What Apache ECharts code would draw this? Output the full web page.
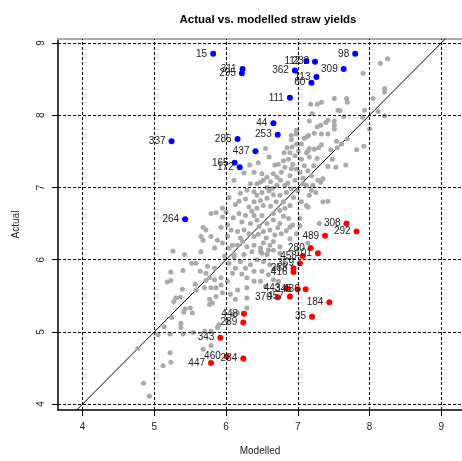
<!DOCTYPE html>
<html>
<head>
<meta charset="utf-8">
<script src="https://cdn.jsdelivr.net/npm/echarts@6/dist/echarts.min.js"></script>
<style>
  html, body { margin: 0; padding: 0; background: #ffffff; }
  #chart { width: 462px; height: 461px; }
</style>
</head>
<body>
<div id="chart"></div>
<script>
// Axis tick positions (both axes share the same 4..9 scale)
const ticks = [4, 5, 6, 7, 8, 9];
// End points of the 1:1 reference line
const oneToOne = [3, 10];

// Fields that fit the model reasonably: [modelled, actual]
const fittedPoints = [
  [8.25,8.78],[8.15,8.72],[7.91,8.58],[8.21,8.37],[8.21,8.32],[8.05,8.23],[7.93,8.07],[8.12,8.05],
  [8.21,7.99],[7.68,8.23],[7.69,8.18],[7.51,8.23],[7.33,8.18],[7.27,8.15],[7.18,8.15],[7.20,8.02],
  [7.56,8.07],[7.59,8.06],[7.64,7.98],[7.90,7.97],[7.51,7.92],[7.51,7.86],[7.51,7.81],[7.42,7.93],
  [7.39,7.90],[7.32,7.86],[7.27,7.84],[7.16,7.92],[7.23,7.75],[7.33,7.74],[7.42,7.74],[7.54,7.64],
  [7.69,7.67],[7.92,7.57],[7.82,7.52],[7.61,7.60],[7.55,7.55],[7.46,7.52],[7.33,7.59],[7.29,7.55],
  [7.23,7.53],[7.16,7.54],[7.14,7.50],[7.13,7.70],[7.15,7.72],[7.09,7.68],[6.98,7.79],[6.98,7.74],
  [6.91,7.72],[6.91,7.66],[6.98,7.60],[7.01,7.50],[8.00,7.81],[6.92,7.56],[6.55,7.54],
  [6.89,7.48],[6.96,7.44],[6.87,7.39],[6.93,7.32],[7.05,7.39],[7.12,7.48],[7.16,7.42],[7.09,7.30],
  [7.14,7.23],[7.03,7.21],[6.91,7.26],[6.89,7.16],[6.96,7.10],[7.07,7.05],[7.19,7.16],[7.21,7.03],
  [7.28,7.10],[7.32,7.07],[7.35,7.12],[7.25,6.93],[7.19,6.96],[7.12,7.03],[7.16,6.89],[7.05,6.80],
  [7.12,6.75],[7.14,6.73],[7.35,6.80],[7.42,6.81],[7.42,7.29],[7.53,7.28],[7.67,7.31],[7.48,7.39],
  [6.87,6.57],[6.93,6.48],[7.03,6.57],[6.89,6.45],[7.03,6.47],[7.30,6.50],[6.89,6.29],[7.14,6.23],
  [6.98,6.36],
  [6.33,7.31],[6.45,7.34],[6.68,7.31],[6.73,7.32],[6.80,7.37],[6.82,7.28],[6.77,7.21],[6.66,7.19],
  [6.71,7.14],[6.57,7.14],[6.52,7.10],[6.48,7.07],[6.43,7.05],[6.34,7.05],[6.11,7.10],[6.82,7.03],
  [6.71,7.03],[6.65,6.99],[6.57,7.00],[6.50,6.93],[6.43,6.89],[6.39,6.94],[6.29,6.96],[6.27,6.84],
  [6.39,6.80],[6.48,6.82],[6.57,6.85],[6.66,6.90],[6.75,6.89],[6.84,6.93],[6.91,6.98],[6.18,6.81],
  [6.13,6.76],[6.32,6.73],[6.43,6.71],[6.52,6.75],[6.18,6.64],[6.27,6.61],[6.39,6.61],[6.50,6.61],
  [6.66,6.64],[6.75,6.68],[6.82,6.71],[6.89,6.75],[5.79,6.64],[5.86,6.65],[5.95,6.59],[5.95,6.71],
  [6.43,6.55],[6.57,6.50],[6.66,6.55],[6.75,6.50],[5.93,6.45],[6.02,6.48],[6.07,6.41],[6.16,6.39],
  [6.25,6.41],[6.32,6.36],[6.39,6.32],[6.45,6.35],[6.52,6.39],[6.61,6.41],[6.68,6.34],[6.77,6.36],
  [5.68,6.45],[5.72,6.41],[5.65,6.32],[5.68,6.27],[5.79,6.32],[5.88,6.27],[5.95,6.23],[6.02,6.32],
  [6.09,6.20],[6.16,6.20],[6.23,6.25],[6.29,6.18],[6.39,6.20],[6.48,6.16],[6.52,6.23],[6.61,6.20],
  [6.66,6.25],[6.75,6.18],[5.65,6.11],[5.84,6.16],[6.04,6.16],[6.11,6.07],[6.25,6.07],[6.36,6.11],
  [6.50,6.09],[6.59,6.13],[6.81,7.48],[6.39,7.21],[6.50,7.19],
  [6.62,7.08],[6.76,7.10],[6.86,7.06],[6.60,6.95],[6.70,6.80],[6.80,6.80],[6.94,6.86],[6.62,6.74],
  [6.36,6.67],[6.46,6.46],[6.56,6.30],[6.80,6.60],[6.72,6.44],[6.34,6.50],[6.22,6.52],[6.10,6.58],
  [6.20,6.30],[6.84,6.40],[7.00,6.95],[7.07,7.13],[6.98,7.25],[7.22,7.30],[7.27,7.40],[7.05,7.60],
  [6.85,7.55],[6.60,7.42],[6.25,7.20],[6.20,6.92],[6.04,6.86],[6.00,6.66],
  [5.26,6.12],[5.42,6.07],[5.58,5.95],[5.52,5.95],[5.23,5.83],[5.40,5.85],[5.74,5.91],[5.72,5.81],
  [5.84,5.88],[5.77,5.75],[5.84,5.72],[5.93,5.75],[5.79,5.61],[5.86,5.61],[5.93,5.65],[6.02,5.70],
  [6.09,5.81],[6.13,5.88],[6.04,5.95],[6.11,6.04],[6.20,5.97],[5.95,5.54],[5.86,5.49],[6.06,5.52],
  [6.16,5.58],[6.29,5.61],[6.29,5.75],[6.27,5.88],[6.34,5.93],[6.39,5.70],[6.48,5.70],[6.55,5.63],
  [6.39,5.84],[6.50,5.84],[6.59,5.79],[6.66,5.72],[6.73,5.70],[6.43,6.00],[6.52,5.97],[6.61,5.93],
  [6.68,5.88],[6.48,6.11],[6.57,6.07],[6.66,6.13],[6.75,6.09],[5.98,6.05],[6.22,5.80],[5.64,5.84],
  [5.18,5.69],[5.23,5.71],[5.39,5.59],[5.57,5.66],[5.58,5.58],[5.70,5.61],[5.72,5.71],
  [4.93,4.11],[4.85,4.29],[4.77,4.77],[5.12,4.53],[5.23,4.58],[5.22,4.71],[5.68,4.76],[5.79,4.81],
  [5.05,4.96],[5.22,4.97],[5.40,4.97],[5.54,4.99],[5.70,5.01],[5.79,5.01],[5.88,5.06],[5.90,5.10],
  [6.02,5.15],[6.09,5.24],[6.16,5.26],[6.29,5.33],[5.14,5.07],[5.24,5.20],[5.37,5.12],[5.37,5.06],
  [5.41,5.27],[5.43,5.32],[5.50,5.33],[5.53,5.26],[5.27,5.42],[5.30,5.47],[5.36,5.48],[5.77,5.45],
  [5.81,5.40],[5.77,5.38],[6.13,5.45],[6.29,5.47]
];

// Fields yielding well above the model
const overLabels   = ['15','311','295','112','232','362','309','98','113','60','111','44','253','285','337','437','165','172','264'];
const overModelled = [5.82, 6.23, 6.22, 7.12, 7.24, 6.96, 7.64, 7.80, 7.26, 7.19, 6.89, 6.66, 6.72, 6.16, 5.24, 6.41, 6.12, 6.19, 5.43];
const overActual   = [8.85, 8.64, 8.58, 8.75, 8.74, 8.62, 8.64, 8.85, 8.53, 8.45, 8.24, 7.89, 7.73, 7.67, 7.64, 7.50, 7.34, 7.28, 6.56];

// Fields yielding well below the model
const underLabels   = ['308','292','489','280','101','458','369','258','416','443','345','486','370','457','184','35','448','289','343','460','284','447'];
const underModelled = [7.68, 7.82, 7.38, 7.18, 7.28, 7.07, 7.03, 6.94, 6.94, 6.84, 7.00, 7.11, 6.72, 6.89, 7.44, 7.20, 6.25, 6.24, 5.92, 6.01, 6.24, 5.79];
const underActual   = [6.50, 6.39, 6.33, 6.16, 6.09, 6.05, 5.95, 5.88, 5.83, 5.60, 5.59, 5.59, 5.48, 5.49, 5.41, 5.21, 5.25, 5.13, 4.92, 4.66, 4.63, 4.57];

const FONT = '"Liberation Sans", Arial, Helvetica, sans-serif';
const TEXT = '#222222';

const chart = echarts.init(document.getElementById('chart'), null, { renderer: 'canvas' });

function labelled(xs, ys, names) {
  return xs.map((x, i) => [x, ys[i], names[i]]);
}

const pointLabel = {
  show: true,
  position: 'left',
  distance: 3,
  formatter: p => p.data[2],
  fontSize: 10,
  fontFamily: FONT,
  color: TEXT
};

const gridLines = ticks.map(t => ({ xAxis: t })).concat(ticks.map(t => ({ yAxis: t })));

chart.setOption({
  animation: false,
  backgroundColor: '#ffffff',
  textStyle: { fontFamily: FONT },
  title: {
    text: 'Actual vs. modelled straw yields',
    left: 263,
    top: 9,
    textAlign: 'center',
    textStyle: { fontSize: 11.5, fontWeight: 'bold', color: '#000', fontFamily: FONT }
  },
  grid: { left: 58, top: 39, width: 410, height: 374, containLabel: false },
  xAxis: [{
    type: 'value',
    min: 3.657,
    max: 9.289,
    position: 'bottom',
    name: 'Modelled',
    nameLocation: 'middle',
    nameGap: 36,
    nameTextStyle: { fontSize: 10, color: TEXT, fontFamily: FONT },
    axisLine: { show: true, onZero: false, lineStyle: { color: '#000', width: 1.5 } },
    axisTick: { show: true, customValues: ticks, length: 6, lineStyle: { color: '#000', width: 1 } },
    axisLabel: { customValues: ticks, margin: 12, fontSize: 10, color: TEXT, fontFamily: FONT },
    splitLine: { show: false }
  }, {
    type: 'value',
    min: 3.657,
    max: 9.289,
    position: 'top',
    axisLine: { show: true, onZero: false, lineStyle: { color: '#aaa', width: 2 } },
    axisTick: { show: false },
    axisLabel: { show: false },
    splitLine: { show: false }
  }],
  yAxis: {
    type: 'value',
    min: 3.918,
    max: 9.055,
    name: 'Actual',
    nameLocation: 'middle',
    nameGap: 37,
    nameRotate: 90,
    nameTextStyle: { fontSize: 10, color: TEXT, fontFamily: FONT },
    axisLine: { show: true, onZero: false, lineStyle: { color: '#000', width: 1.5 } },
    axisTick: { show: true, customValues: ticks, length: 6, lineStyle: { color: '#000', width: 1 } },
    axisLabel: {
      customValues: ticks, rotate: 90, align: 'center', verticalAlign: 'bottom',
      margin: 12, fontSize: 10, color: TEXT, fontFamily: FONT
    },
    splitLine: { show: false }
  },
  series: [
    {
      name: '1:1',
      type: 'line',
      data: oneToOne.map(v => [v, v]),
      symbol: 'none',
      clip: true,
      z: 1,
      lineStyle: { color: '#000', width: 1 },
      markLine: {
        silent: true,
        symbol: ['none', 'none'],
        label: { show: false },
        lineStyle: { color: '#000', width: 1, type: [3, 2] },
        data: gridLines
      }
    },
    {
      name: 'fields',
      type: 'scatter',
      data: fittedPoints,
      symbolSize: 5,
      z: 2,
      itemStyle: { color: '#a9a9a9', opacity: 1 }
    },
    {
      name: 'above',
      type: 'scatter',
      data: labelled(overModelled, overActual, overLabels),
      symbolSize: 6,
      z: 3,
      itemStyle: { color: '#0000ff', opacity: 1 },
      label: pointLabel
    },
    {
      name: 'below',
      type: 'scatter',
      data: labelled(underModelled, underActual, underLabels),
      symbolSize: 6,
      z: 3,
      itemStyle: { color: '#ff0000', opacity: 1 },
      label: pointLabel
    }
  ]
});
</script>
</body>
</html>
